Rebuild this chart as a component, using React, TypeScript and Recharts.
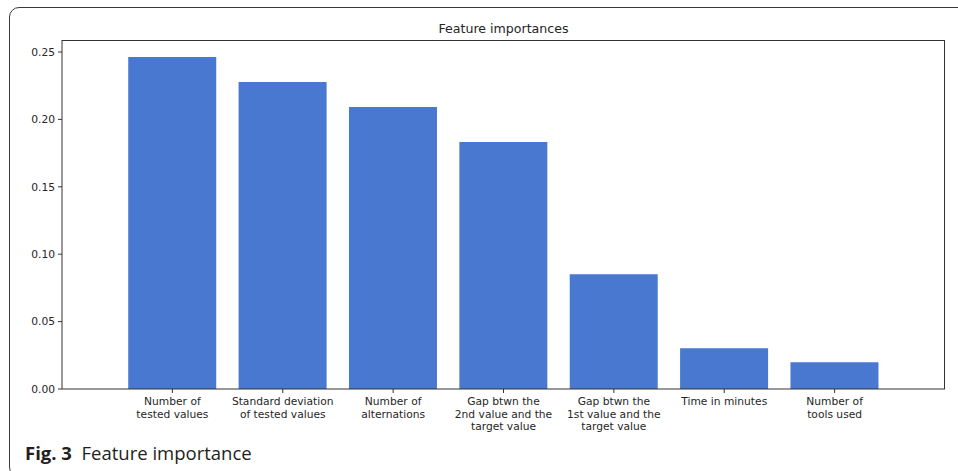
import React from 'react'
import { BarChart, Bar, XAxis, YAxis } from 'recharts'

const features = [
  'Number of\ntested values',
  'Standard deviation\nof tested values',
  'Number of\nalternations',
  'Gap btwn the\n2nd value and the\ntarget value',
  'Gap btwn the\n1st value and the\ntarget value',
  'Time in minutes',
  'Number of\ntools used',
]
const importances = [0.2463, 0.2277, 0.2092, 0.1832, 0.0852, 0.0302, 0.0198]
const yTicks = [0, 0.05, 0.1, 0.15, 0.2, 0.25]

const data = features.map((name, i) => ({ name, value: importances[i] }))

const tickFont = 'DejaVu Sans, sans-serif'

function FeatureTick(props: any) {
  const { x, y, payload } = props
  const lines = String(payload.value).split('\n')
  return (
    <text x={x} y={y} textAnchor="middle" fontFamily={tickFont} fontSize={10.7} fill="#262626">
      {lines.map((l, i) => (
        <tspan key={i} x={x} dy={i === 0 ? 10 : 12.7}>{l}</tspan>
      ))}
    </text>
  )
}

export default function App() {
  return (
    <div style={{ position: 'absolute', left: 0, top: 0, width: 958, height: 471, overflow: 'hidden', background: '#fff' }}>
      <div style={{ position: 'absolute', left: 9, top: 7, width: 1000, height: 470, border: '1.5px solid #3a3a3a', borderRadius: 10, boxSizing: 'border-box' }} />
      <div style={{ position: 'absolute', left: 62, width: 883, top: 21, textAlign: 'center', fontFamily: tickFont, fontSize: 12.6, color: '#262626' }}>
        Feature importances
      </div>
      <div style={{ position: 'absolute', left: 0, top: 0 }}>
        <BarChart width={958} height={471} data={data} margin={{ top: 40, right: 13, bottom: 12, left: 0 }} barCategoryGap="10%">
          <XAxis
            dataKey="name"
            interval={0}
            height={70}
            padding={{ left: 55.2, right: 55.2 }}
            stroke="#333"
            tickSize={4}
            tick={<FeatureTick />}
          />
          <YAxis
            width={62}
            domain={[0, 0.2589]}
            allowDataOverflow
            ticks={yTicks}
            tickFormatter={(v: number) => v.toFixed(2)}
            stroke="#333"
            tickSize={4}
            tickMargin={3}
            tick={{ fontFamily: tickFont, fontSize: 10.7, fill: '#262626' }}
          />
          <Bar dataKey="value" fill="#4878cf" isAnimationActive={false} />
        </BarChart>
      </div>
      <div style={{ position: 'absolute', left: 62, top: 40, width: 883, height: 349, borderTop: '1px solid #333', borderRight: '1px solid #333', boxSizing: 'border-box', pointerEvents: 'none' }} />
      <div style={{ position: 'absolute', left: 25, top: 440, fontFamily: 'Open Sans, sans-serif', fontSize: 18.5, color: '#231f20', whiteSpace: 'nowrap' }}>
        <b>Fig. 3</b>&nbsp; Feature importance
      </div>
    </div>
  )
}
